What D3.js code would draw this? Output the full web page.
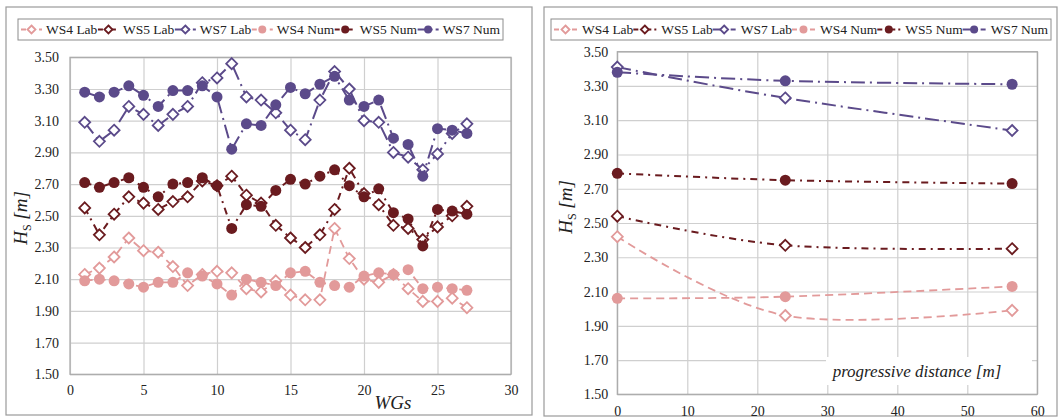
<!DOCTYPE html>
<html><head><meta charset="utf-8">
<script src="https://cdn.jsdelivr.net/npm/d3@7"></script>
<style>
body{margin:0;background:#fff;}
svg{display:block;}
</style>
</head><body>
<svg id="c" width="1061" height="419"></svg>
<script>
// ---------- data ----------
const seriesNames = ["WS4 Lab","WS5 Lab","WS7 Lab","WS4 Num","WS5 Num","WS7 Num"];
const wgs = [1,2,3,4,5,6,7,8,9,10,11,12,13,14,15,16,17,18,19,20,21,22,23,24,25,26,27];
const ws4Lab = [2.13,2.17,2.24,2.36,2.28,2.27,2.18,2.06,2.13,2.15,2.14,2.04,2.02,2.09,2.00,1.97,1.97,2.42,2.23,2.10,2.08,2.13,2.04,1.96,1.96,1.98,1.92];
const ws5Lab = [2.55,2.38,2.51,2.62,2.58,2.54,2.59,2.62,2.72,2.69,2.75,2.63,2.58,2.44,2.36,2.30,2.38,2.54,2.80,2.64,2.57,2.44,2.42,2.35,2.43,2.50,2.56];
const ws7Lab = [3.09,2.97,3.04,3.19,3.14,3.07,3.14,3.19,3.34,3.37,3.46,3.25,3.23,3.15,3.04,2.98,3.23,3.41,3.30,3.10,3.09,2.90,2.87,2.79,2.89,3.02,3.08];
const ws4Num = [2.09,2.10,2.09,2.07,2.05,2.08,2.08,2.14,2.12,2.07,2.00,2.10,2.08,2.06,2.14,2.15,2.08,2.06,2.05,2.12,2.14,2.13,2.16,2.04,2.05,2.04,2.03];
const ws5Num = [2.71,2.68,2.71,2.74,2.68,2.62,2.70,2.71,2.74,2.69,2.42,2.57,2.56,2.66,2.73,2.70,2.75,2.79,2.69,2.62,2.67,2.52,2.48,2.31,2.54,2.53,2.51];
const ws7Num = [3.28,3.25,3.28,3.32,3.26,3.19,3.29,3.29,3.32,3.25,2.92,3.08,3.07,3.20,3.31,3.27,3.33,3.38,3.23,3.19,3.23,2.99,2.95,2.75,3.05,3.04,3.02];

const distances = [0,24,56.4];
const distWs4Lab = [2.42,1.96,1.99];
const distWs5Lab = [2.54,2.37,2.35];
const distWs7Lab = [3.41,3.23,3.04];
const distWs4Num = [2.06,2.07,2.13];
const distWs5Num = [2.79,2.75,2.73];
const distWs7Num = [3.38,3.33,3.31];

const yTicks = [1.50,1.70,1.90,2.10,2.30,2.50,2.70,2.90,3.10,3.30,3.50];
const xTicksLeft = [0,5,10,15,20,25,30];
const xTicksRight = [0,10,20,30,40,50,60];

// ---------- styles ----------
const FONT = "Liberation Serif";
const PINK = "#e29a9a", DARK = "#6a1b1f", PURP = "#5b4a8a";
const styles = [
  {color:PINK, dash:"8,5",      marker:"diamond", w:1.8},
  {color:DARK, dash:"7,5,2,5",  marker:"diamond", w:2},
  {color:PURP, dash:"14,5,2,5", marker:"diamond", w:2},
  {color:PINK, dash:"8,5",      marker:"circle",  w:1.8},
  {color:DARK, dash:"7,5,2,5",  marker:"circle",  w:2},
  {color:PURP, dash:"14,5,2,5", marker:"circle",  w:2}
];

const svg = d3.select("#c");
const diamondPath = s => `M0,${-s}L${s},0L0,${s}L${-s},0Z`;
const txt = sel => sel.attr("font-family",FONT).attr("fill","#222");

function drawMarker(g, x, y, st, s){
  if(st.marker==="diamond"){
    g.append("path").attr("d",diamondPath(s)).attr("transform",`translate(${x},${y})`)
      .attr("fill","#fff").attr("stroke",st.color).attr("stroke-width",1.8);
  } else {
    g.append("circle").attr("cx",x).attr("cy",y).attr("r",s)
      .attr("fill",st.color);
  }
}

function drawPanel(cfg){
  const g = svg.append("g");
  g.append("rect").attr("x",cfg.frame[0]).attr("y",cfg.frame[1])
   .attr("width",cfg.frame[2]).attr("height",cfg.frame[3])
   .attr("fill","#fff").attr("stroke","#9a9a9a").attr("stroke-width",1.2);

  const x = d3.scaleLinear().domain(cfg.xDomain).range([cfg.plot[0], cfg.plot[1]]);
  const y = d3.scaleLinear().domain([1.5,3.5]).range([cfg.plot[3], cfg.plot[2]]);

  const gx = g.append("g").attr("transform",`translate(0,${cfg.plot[3]})`)
    .call(d3.axisBottom(x).tickValues(cfg.xTicks).tickSize(-(cfg.plot[3]-cfg.plot[2])).tickFormat(d3.format("d")).tickPadding(cfg.xPad));
  const gy = g.append("g").attr("transform",`translate(${cfg.plot[0]},0)`)
    .call(d3.axisLeft(y).tickValues(yTicks).tickSize(-(cfg.plot[1]-cfg.plot[0])).tickFormat(d3.format(".2f")).tickPadding(cfg.yPad));
  [gx,gy].forEach(a=>{
    a.attr("font-family",FONT);
    a.select(".domain").remove();
    a.selectAll(".tick line").attr("stroke","#cfcfcf").attr("stroke-width",1.2);
    a.selectAll(".tick text").attr("font-size",14).call(txt);
  });
  g.append("rect").attr("x",cfg.plot[0]).attr("y",cfg.plot[2])
   .attr("width",cfg.plot[1]-cfg.plot[0]).attr("height",cfg.plot[3]-cfg.plot[2])
   .attr("fill","none").attr("stroke","#a8a8a8").attr("stroke-width",1.2);

  if(cfg.xLabelBox){
    const b = cfg.xLabelBox;
    g.append("rect").attr("x",b[0]).attr("y",b[1]).attr("width",b[2]).attr("height",b[3]).attr("fill","#fff");
  }

  cfg.series.forEach((vals,i)=>{
    const st = styles[i];
    const pts = cfg.xs.map((xv,j)=>[x(xv), y(vals[j])]);
    const line = d3.line().curve(cfg.curve);
    g.append("path").attr("d",line(pts)).attr("fill","none")
      .attr("stroke",st.color).attr("stroke-width",st.w).attr("stroke-dasharray",st.dash);
    pts.forEach(p=>drawMarker(g,p[0],p[1],st,5.5));
  });

  const yt = g.append("text").attr("transform",`translate(${cfg.yTitle[0]},${cfg.yTitle[1]}) rotate(-90)`)
    .attr("text-anchor","middle").attr("font-size",19).attr("font-style","italic").call(txt);
  yt.append("tspan").text("H");
  yt.append("tspan").text("S").attr("font-size",12).attr("dy",4).attr("font-style","normal");
  yt.append("tspan").text(" [m]").attr("dy",-4);

  if(cfg.xTitle){
    g.append("text").attr("x",cfg.xTitle[0]).attr("y",cfg.xTitle[1]).attr("text-anchor","middle")
     .attr("font-size",cfg.xTitle[3]).attr("font-style","italic").text(cfg.xTitle[2]).call(txt);
  }

  // legend (items justified inside the box)
  const L = cfg.legend;
  g.append("rect").attr("x",L.x).attr("y",L.y).attr("width",L.w).attr("height",L.h)
   .attr("fill","#fff").attr("stroke","#8c8c8c").attr("stroke-width",1);
  const ly = L.y + L.h/2;
  const items = seriesNames.map((name,i)=>{
    const lg = g.append("g");
    const t = lg.append("text").attr("y",ly+4.7).attr("font-size",L.fs).text(name).call(txt);
    return {lg, t, w:t.node().getComputedTextLength()};
  });
  const total = d3.sum(items, d=>L.sym + L.pad + d.w);
  const gap = (L.w - 6 - total) / (items.length - 1);
  let lx = L.x + 3;
  items.forEach((it,i)=>{
    const st = styles[i];
    it.lg.insert("line","text").attr("x1",lx).attr("x2",lx+L.sym).attr("y1",ly).attr("y2",ly)
      .attr("stroke",st.color).attr("stroke-width",2).attr("stroke-dasharray",i%3===0?"5,4":(i%3===1?"5,3,2,3":"10,3,2,3"));
    drawMarker(it.lg, lx+L.sym/2, ly, st, 4);
    it.t.attr("x",lx+L.sym+L.pad);
    lx += L.sym + L.pad + it.w + gap;
  });
}

drawPanel({
  frame:[6,7,526,408],
  plot:[70,511,57.3,374.3],
  xDomain:[0,30], xTicks:xTicksLeft, xPad:11, yPad:11,
  xs:wgs, series:[ws4Lab,ws5Lab,ws7Lab,ws4Num,ws5Num,ws7Num],
  curve:d3.curveLinear,
  yTitle:[27,218],
  xTitle:[393,409,"WGs",19],
  legend:{x:18,y:19,w:485,h:21,sym:21,pad:4,fs:13.5}
});

drawPanel({
  frame:[544,7,513,409],
  plot:[617.3,1037.3,51.7,394.3],
  xDomain:[0,60], xTicks:xTicksRight, xPad:12, yPad:9,
  xs:distances, series:[distWs4Lab,distWs5Lab,distWs7Lab,distWs4Num,distWs5Num,distWs7Num],
  curve:d3.curveCardinal.tension(0),
  yTitle:[572,207],
  xTitle:[917,377,"progressive distance [m]",17],
  xLabelBox:[826,357,206,28],
  legend:{x:551,y:19,w:500,h:21,sym:23,pad:5,fs:13.5}
});
</script>
</body></html>
